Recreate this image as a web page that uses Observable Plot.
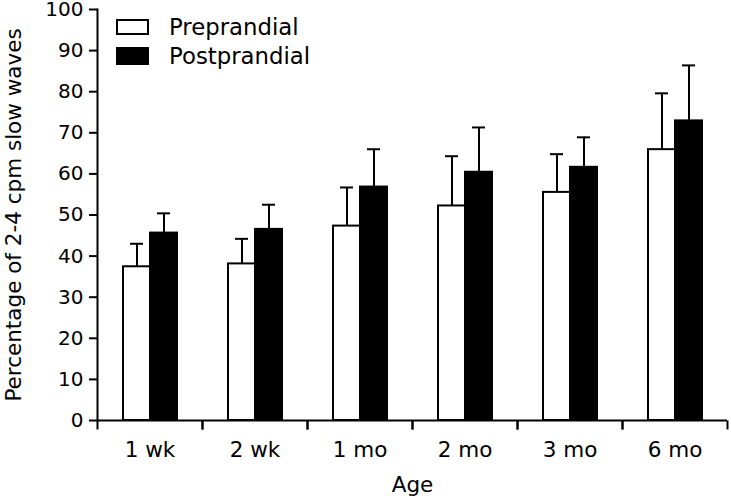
<!DOCTYPE html>
<html><head><meta charset="utf-8">
<script src="https://cdn.jsdelivr.net/npm/d3@7"></script>
<script src="https://cdn.jsdelivr.net/npm/@observablehq/plot@0.6"></script>
<style>
body{margin:0;background:#fff;}
#wrap{position:relative;width:731px;height:502px;font-family:"DejaVu Sans",sans-serif;}
#wrap svg{overflow:visible;}
.sw{position:absolute;left:116px;width:29px;border:2px solid #000;}
.lt{position:absolute;left:169px;font-size:22.8px;line-height:23px;color:#000;white-space:nowrap;}
</style></head><body><div id="wrap"></div>
<script>
const ages = ["1 wk", "2 wk", "1 mo", "2 mo", "3 mo", "6 mo"];
const series = ["Preprandial", "Postprandial"];
const preMean = [37.4, 38.1, 47.3, 52.2, 55.5, 65.9];
const preSD = [5.6, 6.1, 9.4, 12.1, 9.3, 13.7];
const postMean = [45.6, 46.5, 56.8, 60.4, 61.6, 72.9];
const postSD = [4.8, 6.0, 9.2, 10.9, 7.3, 13.5];
const yTicks = [0, 10, 20, 30, 40, 50, 60, 70, 80, 90, 100];

const rows = ages.flatMap((a, i) => [
  {age: a, series: series[0], mean: preMean[i], sd: preSD[i]},
  {age: a, series: series[1], mean: postMean[i], sd: postSD[i]}
]);

const tickSymbol = {draw(ctx, size) { const l = Math.sqrt(size); ctx.moveTo(0, 0); ctx.lineTo(0, l); }};

const chart = Plot.plot({
  width: 731, height: 502,
  marginLeft: 96, marginRight: 3, marginTop: 9, marginBottom: 82,
  style: {fontFamily: "DejaVu Sans", fontSize: "20px", color: "#000", background: "#fff", overflow: "visible"},
  fx: {domain: ages, padding: 0, label: "Age"},
  x: {domain: series, paddingInner: 0, paddingOuter: 0.93, axis: null},
  y: {domain: [0, 100]},
  color: {domain: series, range: ["#ffffff", "#000000"]},
  marks: [
    Plot.axisY({ticks: yTicks, tickSize: 8, tickPadding: 6, strokeWidth: 2, label: null}),
    Plot.axisY({ticks: [], tickSize: 0, fontSize: 21.5,
      label: "Percentage of 2-4 cpm slow waves", labelAnchor: "center", labelArrow: "none", labelOffset: 92}),
    Plot.axisFx({anchor: "bottom", tickSize: 0, tickPadding: 21, fontSize: 21.5, label: "Age", labelAnchor: "center", labelArrow: "none", labelOffset: 71}),
    Plot.frame({anchor: "left", facetAnchor: "left", strokeWidth: 2}),
    Plot.ruleY([0], {strokeWidth: 2}),
    Plot.dot(ages, {fx: d => d, frameAnchor: "bottom-left", symbol: tickSymbol, r: Math.sqrt(81 / Math.PI), stroke: "#000", fill: "none", strokeWidth: 2}),
    Plot.dot(ages, {fx: d => d, frameAnchor: "bottom-right", symbol: tickSymbol, r: Math.sqrt(81 / Math.PI), stroke: "#000", fill: "none", strokeWidth: 2}),
    Plot.ruleX(rows, {fx: "age", x: "series", y1: "mean", y2: d => d.mean + d.sd, strokeWidth: 2}),
    Plot.tickY(rows, {fx: "age", x: "series", y: d => d.mean + d.sd, strokeWidth: 2, inset: 7}),
    Plot.barY(rows, {fx: "age", x: "series", y: "mean", fill: "series", stroke: "#000", strokeWidth: 2})
  ]
});

const wrap = document.getElementById("wrap");
wrap.appendChild(chart);
const legendItems = [
  {label: series[0], fill: "#ffffff", top: 19, h: 12, textTop: 16.4},
  {label: series[1], fill: "#000000", top: 47, h: 14, textTop: 45.4}
];
for (const it of legendItems) {
  const sw = document.createElement("div");
  sw.className = "sw";
  sw.style.top = it.top + "px";
  sw.style.height = it.h + "px";
  sw.style.background = it.fill;
  wrap.appendChild(sw);
  const t = document.createElement("div");
  t.className = "lt";
  t.style.top = it.textTop + "px";
  t.textContent = it.label;
  wrap.appendChild(t);
}
</script></body></html>
